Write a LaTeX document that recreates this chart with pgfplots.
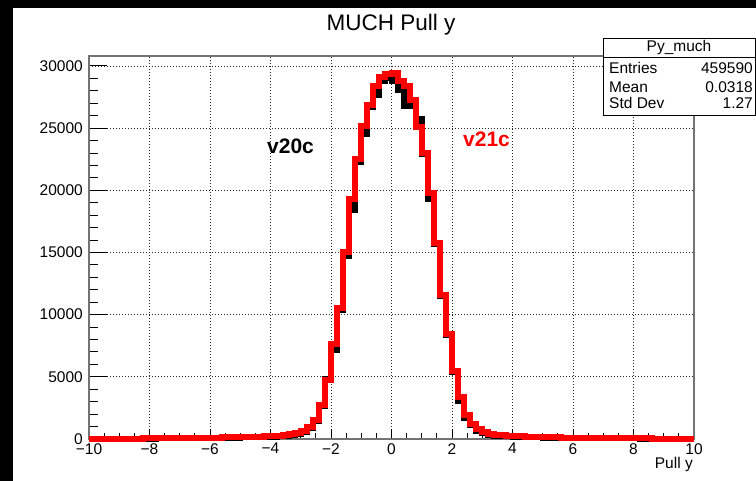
\documentclass[border=0pt]{standalone}
\usepackage{fontspec}
\setmainfont{Liberation Sans}
\usepackage{pgfplots}
\usepackage{pgfplotstable}
\pgfplotsset{compat=1.18}

\pgfplotstableread{
x red blk
-10.0 20 15
-9.8 20 15
-9.6 20 15
-9.4 25 20
-9.2 25 20
-9.0 25 20
-8.8 30 25
-8.6 30 25
-8.4 35 28
-8.2 40 32
-8.0 45 36
-7.8 50 40
-7.6 55 44
-7.4 60 48
-7.2 65 52
-7.0 70 56
-6.8 80 64
-6.6 85 68
-6.4 90 60
-6.2 100 70
-6.0 110 88
-5.8 120 96
-5.6 125 100
-5.4 135 108
-5.2 145 116
-5.0 155 124
-4.8 165 132
-4.6 180 144
-4.4 195 156
-4.2 210 168
-4.0 230 184
-3.8 260 208
-3.6 300 240
-3.4 370 300
-3.2 480 390
-3.0 680 560
-2.8 1000 850
-2.6 1550 1450
-2.4 2700 2650
-2.2 4780 4850
-2.0 7600 7180
-1.8 10550 10400
-1.6 15050 14700
-1.4 19300 18450
-1.2 22550 22300
-1.0 25200 24500
-0.8 26850 26700
-0.6 28400 27700
-0.4 29150 28800
-0.2 29350 29000
0.0 29450 28750
0.2 28800 28100
0.4 28350 26800
0.6 27250 27200
0.8 25100 25700
1.0 23000 22900
1.2 19800 19300
1.4 15800 15700
1.6 11550 11500
1.8 8450 8400
2.0 5450 5400
2.2 3400 3050
2.4 1950 1700
2.6 1200 1100
2.8 780 620
3.0 560 480
3.2 430 340
3.4 350 280
3.6 300 240
3.8 260 210
4.0 230 185
4.2 210 170
4.4 195 155
4.6 180 145
4.8 165 130
5.0 150 120
5.2 140 112
5.4 130 104
5.6 120 96
5.8 110 88
6.0 100 80
6.2 95 76
6.4 90 72
6.6 85 68
6.8 80 64
7.0 75 60
7.2 70 56
7.4 65 52
7.6 60 48
7.8 55 44
8.0 50 40
8.2 45 36
8.4 40 32
8.6 35 28
8.8 30 24
9.0 30 24
9.2 25 20
9.4 25 20
9.6 20 16
9.8 20 16
10.0 20 16
}\histdata

\newcommand\tl{\fontsize{15.5}{17}\selectfont}

\begin{document}
\begin{tikzpicture}
% canvas
\fill[white] (0pt,0pt) rectangle (756pt,481pt);
\fill[black] (0pt,473pt) rectangle (756pt,481pt);
\fill[black] (0pt,0pt) rectangle (13pt,481pt);

\begin{axis}[
  at={(89pt,42pt)}, anchor=south west,
  scale only axis, width=605pt, height=383pt,
  xmin=-10, xmax=10, ymin=0, ymax=30800,
  clip=false,
  scaled x ticks=false, scaled y ticks=false,
  xtick={-10,-8,...,10},
  xticklabels={−10,−8,−6,−4,−2,0,2,4,6,8,10},
  ytick={0,5000,10000,15000,20000,25000,30000},
  yticklabels={0,5000,10000,15000,20000,25000,30000},
  minor x tick num=3,
  minor y tick num=4,
  tick align=inside,
  xtick pos=bottom, ytick pos=left,
  xtick style={black, line width=0.9pt, /pgfplots/major tick length=10pt, /pgfplots/minor tick length=5.5pt},
  ytick style={black, line width=0.9pt, /pgfplots/major tick length=18pt, /pgfplots/minor tick length=9.5pt},
  axis line style={black!55, line width=1.3pt},
  grid=major,
  major grid style={black!85, line width=0.8pt, dash pattern=on 0.9pt off 2.1pt},
  xticklabel style={font=\tl, anchor=north, inner sep=0pt, yshift=-4pt},
  yticklabel style={font=\tl, anchor=east, inner sep=0pt, xshift=-6pt},
]
\addplot[const plot, black, line width=6pt, line join=miter] table[x=x, y=blk] {\histdata};
\addplot[const plot, red, line width=6pt, line join=miter] table[x=x, y=red] {\histdata};
\end{axis}

% title
\node[anchor=base, inner sep=0pt, font=\fontsize{22.5}{24}\selectfont] at (391pt,450.3pt) {MUCH Pull y};
% version labels
\node[anchor=base west, inner sep=0pt, font=\fontsize{21}{23}\selectfont\bfseries] at (267pt,327.5pt) {v20c};
\node[anchor=base west, inner sep=0pt, text=red, font=\fontsize{21}{23}\selectfont\bfseries] at (463pt,334.5pt) {v21c};
% x axis title
\node[anchor=base east, inner sep=0pt, font=\tl] at (693pt,12.5pt) {Pull y};

% stats box
\fill[white] (603pt,366pt) rectangle (755pt,443pt);
\draw[black, line width=0.9pt] (603pt,366pt) rectangle (755pt,443pt);
\draw[black, line width=0.9pt] (603pt,424pt) -- (755pt,424pt);
\node[anchor=base, inner sep=0pt, font=\tl] at (679pt,429.3pt) {Py\_much};
\node[anchor=base west, inner sep=0pt, font=\tl] at (609pt,407pt) {Entries};
\node[anchor=base east, inner sep=0pt, font=\tl] at (753pt,407pt) {459590};
\node[anchor=base west, inner sep=0pt, font=\tl] at (609pt,388pt) {Mean};
\node[anchor=base east, inner sep=0pt, font=\tl] at (753pt,388pt) {0.0318};
\node[anchor=base west, inner sep=0pt, font=\tl] at (609pt,372.5pt) {Std Dev};
\node[anchor=base east, inner sep=0pt, font=\tl] at (753pt,372.5pt) {1.27};
\end{tikzpicture}
\end{document}
